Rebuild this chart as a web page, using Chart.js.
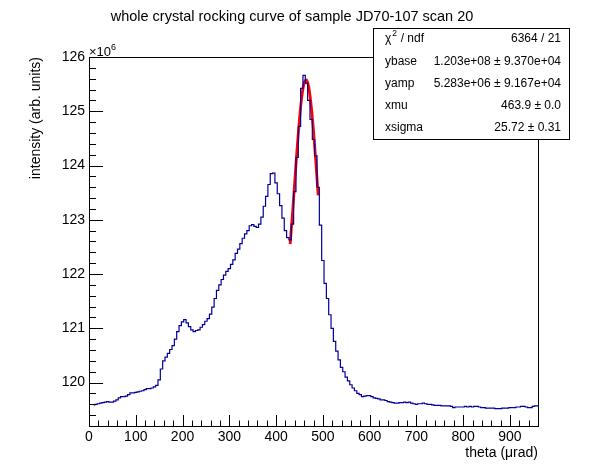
<!DOCTYPE html>
<html>
<head>
<meta charset="utf-8">
<script src="https://cdn.jsdelivr.net/npm/chart.js@4.4.0/dist/chart.umd.min.js"></script>
<style>
  body { margin: 0; background: #fff; }
  canvas { display: block; }
</style>
</head>
<body>
<canvas id="myChart" width="598" height="474"></canvas>
<script>
// theta bins (urad) and measured intensity (x10^6)
const theta = [
  10, 15, 20, 25, 30, 35, 40, 45, 50, 55, 60, 65, 70, 75, 80, 85, 90, 95, 100, 105,
  110, 115, 120, 125, 130, 135, 140, 145, 150, 155, 160, 165, 170, 175, 180, 185, 190, 195, 200, 205,
  210, 215, 220, 225, 230, 235, 240, 245, 250, 255, 260, 265, 270, 275, 280, 285, 290, 295, 300, 305,
  310, 315, 320, 325, 330, 335, 340, 345, 350, 355, 360, 365, 370, 375, 380, 385, 390, 395, 400, 405,
  410, 415, 420, 425, 430, 435, 440, 445, 450, 455, 460, 465, 470, 475, 480, 485, 490, 495, 500, 505,
  510, 515, 520, 525, 530, 535, 540, 545, 550, 555, 560, 565, 570, 575, 580, 585, 590, 595, 600, 605,
  610, 615, 620, 625, 630, 635, 640, 645, 650, 655, 660, 665, 670, 675, 680, 685, 690, 695, 700, 705,
  710, 715, 720, 725, 730, 735, 740, 745, 750, 755, 760, 765, 770, 775, 780, 785, 790, 795, 800, 805,
  810, 815, 820, 825, 830, 835, 840, 845, 850, 855, 860, 865, 870, 875, 880, 885, 890, 895, 900, 905,
  910, 915, 920, 925, 930, 935, 940, 945, 950, 955, 960
];
const intensity = [
  119.59, 119.60, 119.61, 119.62, 119.63, 119.64, 119.65, 119.64, 119.64, 119.66,
  119.68, 119.72, 119.74, 119.74, 119.75, 119.78, 119.81, 119.81, 119.82, 119.83,
  119.84, 119.85, 119.87, 119.89, 119.89, 119.90, 119.92, 119.95, 120.05, 120.25,
  120.40, 120.47, 120.54, 120.61, 120.68, 120.80, 120.94, 121.05, 121.12, 121.16,
  121.10, 121.03, 120.97, 120.94, 120.96, 120.97, 121.02, 121.07, 121.13, 121.18,
  121.26, 121.39, 121.55, 121.70, 121.80, 121.90, 121.98, 122.05, 122.10, 122.18,
  122.26, 122.38, 122.46, 122.56, 122.66, 122.74, 122.80, 122.89, 122.91, 122.88,
  122.86, 122.92, 123.05, 123.25, 123.43, 123.65, 123.85, 123.86, 123.68, 123.48,
  123.26, 123.03, 122.80, 122.67, 122.63, 122.92, 123.52, 124.15, 124.72, 125.42,
  125.66, 125.52, 125.20, 124.85, 124.48, 124.18, 123.60, 122.90, 122.25, 121.83,
  121.55, 121.25, 121.00, 120.76, 120.58, 120.42, 120.28, 120.20, 120.10, 120.03,
  119.96, 119.90, 119.85, 119.80, 119.78, 119.74, 119.75, 119.76, 119.76, 119.74,
  119.72, 119.71, 119.70, 119.68, 119.68, 119.67, 119.65, 119.64, 119.63, 119.62,
  119.62, 119.63, 119.63, 119.64, 119.63, 119.64, 119.62, 119.61, 119.60, 119.61,
  119.61, 119.62, 119.61, 119.60, 119.60, 119.59, 119.58, 119.58, 119.58, 119.57,
  119.57, 119.57, 119.57, 119.56, 119.54, 119.55, 119.55, 119.55, 119.55, 119.56,
  119.55, 119.56, 119.55, 119.56, 119.56, 119.55, 119.54, 119.54, 119.53, 119.53,
  119.53, 119.53, 119.52, 119.52, 119.52, 119.53, 119.53, 119.53, 119.54, 119.54,
  119.54, 119.55, 119.55, 119.56, 119.56, 119.55, 119.54, 119.54, 119.56, 119.57,
  119.57
];

// gaussian fit curve (red)
const fitTheta = [430, 435, 440, 445, 450, 455, 460, 465, 470, 475, 480, 485, 490];
const fitValues = [122.55, 123.10, 123.72, 124.32, 124.85, 125.27, 125.52, 125.58, 125.44, 125.11, 124.64, 124.07, 123.45];

const xTicks = [0, 100, 200, 300, 400, 500, 600, 700, 800, 900];
const yTicks = [120, 121, 122, 123, 124, 125, 126];

const statNames = ["ybase", "yamp", "xmu", "xsigma"];
const statValues = ["1.203e+08 \u00b1 9.370e+04", "5.283e+06 \u00b1 9.167e+04", "463.9 \u00b1 0.0", "25.72 \u00b1 0.31"];
const chiText = "6364 / 21";

const FONT = '"Liberation Sans", Arial, Helvetica, sans-serif';

// ROOT style frame, inner ticks, titles and stats box
const rootFrame = {
  id: "rootFrame",
  afterDraw(chart) {
    const c = chart.ctx;
    const a = chart.chartArea;
    const xs = chart.scales.x;
    const ys = chart.scales.y;
    c.save();
    c.strokeStyle = "#000";
    c.lineWidth = 1;
    c.strokeRect(a.left + 0.5, a.top + 0.5, a.right - a.left, a.bottom - a.top);

    c.beginPath();
    // x ticks, major every 100, minor every 20
    for (let v = 0; v <= 960; v += 20) {
      const px = Math.round(xs.getPixelForValue(v)) + 0.5;
      const len = v % 100 === 0 ? 11 : 5.5;
      c.moveTo(px, a.bottom);
      c.lineTo(px, a.bottom - len);
    }
    // y ticks, major every 1, minor every 0.2
    for (let k = 0; k <= 34; k++) {
      const v = 119.2 + k * 0.2;
      const py = Math.round(ys.getPixelForValue(v)) + 0.5;
      const major = Math.abs(v - Math.round(v)) < 1e-6;
      c.moveTo(a.left, py);
      c.lineTo(a.left + (major ? 14 : 7), py);
    }
    c.stroke();

    c.fillStyle = "#000";
    // title
    c.font = "14.5px " + FONT;
    c.textAlign = "center";
    c.textBaseline = "alphabetic";
    c.fillText("whole crystal rocking curve of sample JD70-107 scan 20", 292, 21);

    // x axis title
    c.font = "14px " + FONT;
    c.textAlign = "right";
    c.fillText("theta (\u03bcrad)", a.right, 457);

    // y axis title
    c.save();
    c.translate(40, a.top);
    c.rotate(-Math.PI / 2);
    c.textAlign = "right";
    c.fillText("intensity (arb. units)", 0, 0);
    c.restore();

    // exponent
    c.textAlign = "left";
    c.font = "13px " + FONT;
    c.fillText("\u00d710", a.left, a.top - 1);
    const w = c.measureText("\u00d710").width;
    c.font = "9px " + FONT;
    c.fillText("6", a.left + w, a.top - 7);

    // stats box
    const bx = 373, by = 28, bw = 196, bh = 111;
    c.fillStyle = "#fff";
    c.fillRect(bx, by, bw, bh);
    c.strokeRect(bx + 0.5, by + 0.5, bw, bh);
    c.fillStyle = "#000";
    c.font = "12px " + FONT;
    c.textBaseline = "middle";
    const rowH = bh / 5;
    const lx = 385, rx = 561;
    let y0 = by + rowH / 2;
    c.textAlign = "left";
    c.fillText("\u03c7", lx, y0);
    const cw = c.measureText("\u03c7").width;
    c.font = "8.5px " + FONT;
    c.fillText("2", lx + cw + 1, y0 - 5);
    c.font = "12px " + FONT;
    c.fillText(" / ndf", lx + cw + 6, y0);
    c.textAlign = "right";
    c.fillText(chiText, rx, y0);
    statNames.forEach((name, i) => {
      const y = by + rowH * (i + 1.5);
      c.textAlign = "left";
      c.fillText(name, lx, y);
      c.textAlign = "right";
      c.fillText(statValues[i], rx, y);
    });
    c.restore();
  }
};

const ctx = document.getElementById("myChart");

new Chart(ctx, {
  type: "line",
  data: {
    datasets: [
      {
        label: "data",
        data: theta.map((t, i) => ({ x: t, y: intensity[i] })),
        borderColor: "#000099",
        borderWidth: 1.2,
        pointRadius: 0,
        stepped: "middle",
        fill: false,
      },
      {
        label: "fit",
        data: fitTheta.map((t, i) => ({ x: t, y: fitValues[i] })),
        borderColor: "#ff0000",
        borderWidth: 2.8,
        pointRadius: 0,
        cubicInterpolationMode: "monotone",
        fill: false,
      },
    ],
  },
  options: {
    responsive: false,
    animation: false,
    devicePixelRatio: 1,
    layout: { padding: { left: 0, right: 60, top: 57, bottom: 0 } },
    plugins: {
      legend: { display: false },
      tooltip: { enabled: false },
      title: { display: false },
    },
    scales: {
      x: {
        type: "linear",
        min: 0,
        max: 960,
        grid: { display: false, drawTicks: false },
        border: { display: false },
        afterBuildTicks: (s) => { s.ticks = xTicks.map((v) => ({ value: v })); },
        afterFit: (s) => { s.height = 48; },
        ticks: {
          padding: 3,
          maxRotation: 0,
          color: "#000",
          font: { family: FONT, size: 14 },
        },
      },
      y: {
        type: "linear",
        min: 119.2,
        max: 126,
        grid: { display: false, drawTicks: false },
        border: { display: false },
        afterBuildTicks: (s) => { s.ticks = yTicks.map((v) => ({ value: v })); },
        afterFit: (s) => { s.width = 89; },
        ticks: {
          padding: 4,
          color: "#000",
          font: { family: FONT, size: 14 },
        },
      },
    },
  },
  plugins: [rootFrame],
});
</script>
</body>
</html>
